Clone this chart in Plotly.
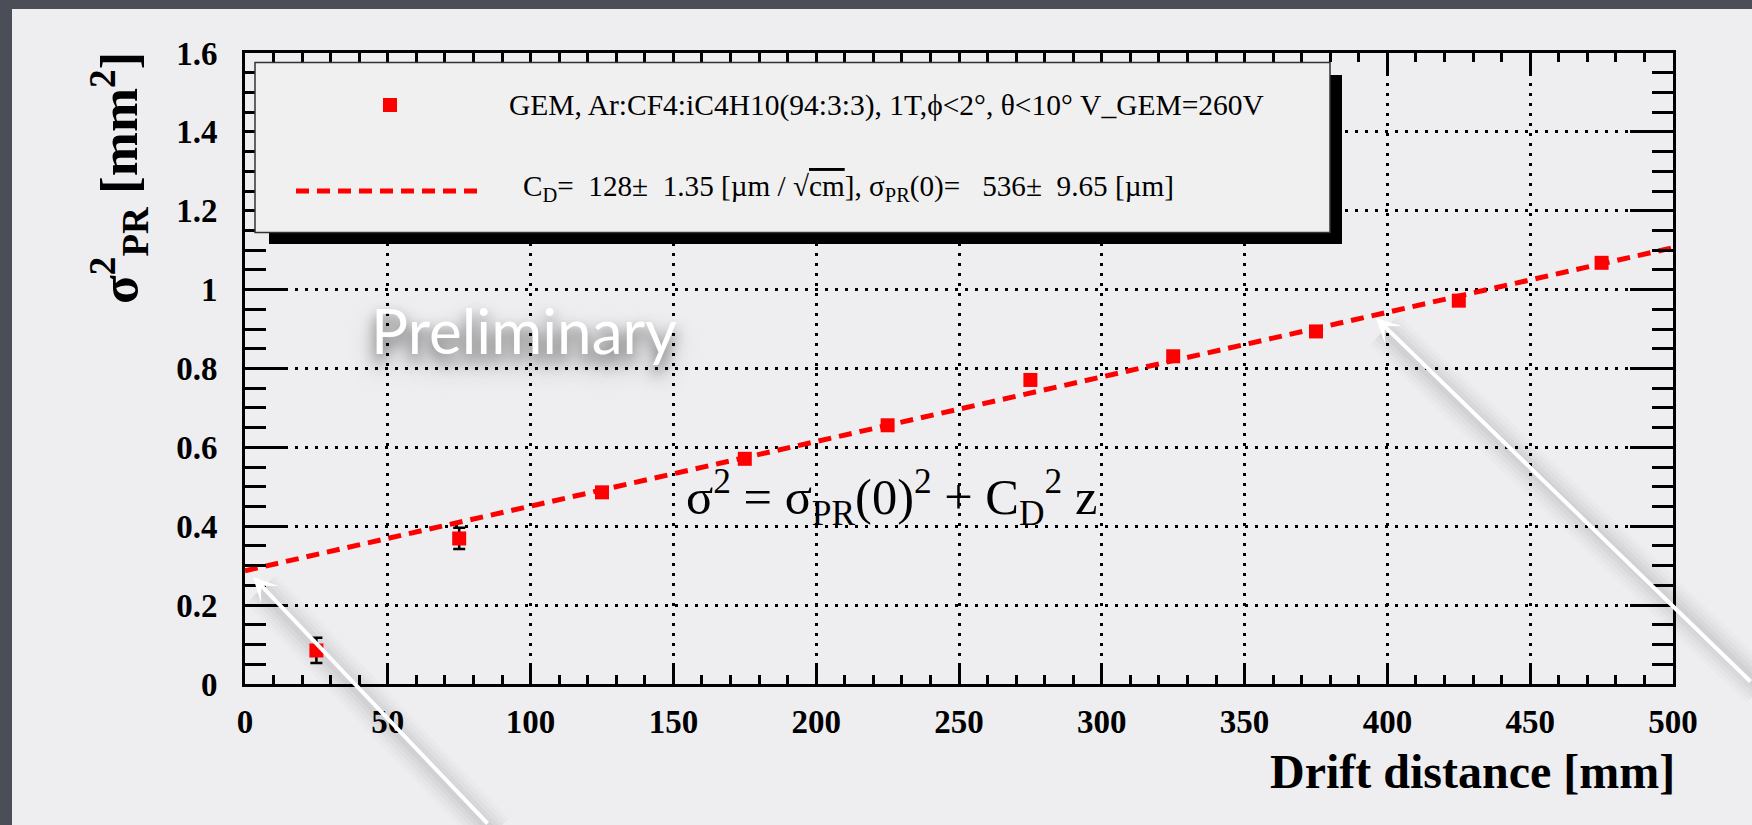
import numpy as np
import plotly.graph_objects as go

# Measured point resolution squared versus drift distance
drift_mm = [25, 75, 125, 175, 225, 275, 325, 375, 425, 475]
sigma2_mm2 = [0.085, 0.369, 0.486, 0.571, 0.656, 0.771, 0.831, 0.894, 0.972, 1.068]
sigma2_err = [0.032, 0.027, 0.011, 0.010, 0.010, 0.010, 0.010, 0.010, 0.010, 0.010]

# Fit result: sigma^2 = sigma_PR(0)^2 + C_D^2 z
cd_um_sqrtcm = 128.0
cd_err = 1.35
sigma0_um = 536.0
sigma0_err = 9.65

x_tick_vals = [0, 50, 100, 150, 200, 250, 300, 350, 400, 450, 500]
x_tick_text = ["0", "50", "100", "150", "200", "250", "300", "350", "400", "450", "500"]
y_tick_vals = [0, 0.2, 0.4, 0.6, 0.8, 1.0, 1.2, 1.4, 1.6]
y_tick_text = ["0", "0.2", "0.4", "0.6", "0.8", "1", "1.2", "1.4", "1.6"]

legend_label_data = "GEM, Ar:CF4:iC4H10(94:3:3), 1T,ϕ&lt;2°, θ&lt;10° V_GEM=260V"
legend_label_fit = (
    f"C<sub>D</sub>=  {cd_um_sqrtcm:.0f}±  {cd_err:.2f} [µm / √<span style='text-decoration:overline'>cm</span>], "
    f"σ<sub>PR</sub>(0)=   {sigma0_um:.0f}±  {sigma0_err:.2f} [µm]"
)

# Fit curve evaluated over the axis range (z in mm, sigma in mm)
z_fit = np.array([0.0, 500.0])
sigma2_fit = (sigma0_um / 1000.0) ** 2 + (cd_um_sqrtcm / 1000.0) ** 2 * z_fit / 10.0

# Frame geometry (pixels)
W_FIG, H_FIG = 1752, 825
L, R, T, B = 245, 1673, 53, 684


def px(X):
    return (X - L) / (R - L)


def py(Y):
    return (B - Y) / (B - T)


PANEL = "#eeeef0"
DARK = "#4b4e56"
SERIF = "Liberation Serif"

fig = go.Figure()

fig.add_trace(go.Scatter(
    x=drift_mm, y=sigma2_mm2, mode="markers",
    marker=dict(symbol="square", size=14, color="#ff0000", line=dict(width=0)),
    error_y=dict(type="data", array=sigma2_err, color="black", thickness=2.5, width=6),
    showlegend=False, hoverinfo="skip",
))

fig.add_trace(go.Scatter(
    x=z_fit, y=sigma2_fit, mode="lines",
    line=dict(color="#ff0000", width=5, dash="13px,8px"),
    showlegend=False, hoverinfo="skip",
))

axis_common = dict(
    showline=True, linewidth=3, linecolor="black", mirror="allticks",
    ticks="inside", tickcolor="black", tickwidth=3,
    showgrid=True, gridcolor="black", gridwidth=2.5, griddash="3px,7px",
    zeroline=False, tickmode="array",
    tickfont=dict(family=SERIF, size=33, color="black", weight="bold"),
)

fig.update_xaxes(
    **axis_common, range=[0, 500], tickvals=x_tick_vals, ticktext=x_tick_text,
    ticklen=20, ticklabelstandoff=6,
    minor=dict(tickmode="linear", tick0=0, dtick=10, ticks="inside", ticklen=9,
               tickwidth=2.5, tickcolor="black", showgrid=False),
)
fig.update_yaxes(
    **axis_common, range=[0, 1.6], tickvals=y_tick_vals, ticktext=y_tick_text,
    ticklen=43, ticklabelstandoff=18,
    minor=dict(tickmode="linear", tick0=0, dtick=0.05, ticks="inside", ticklen=21,
               tickwidth=2.5, tickcolor="black", showgrid=False),
)

shapes = []
# light slide panel
shapes.append(dict(type="rect", xref="paper", yref="paper", layer="below",
                   x0=px(12), x1=px(W_FIG + 10), y0=py(9), y1=py(H_FIG + 10),
                   fillcolor=PANEL, line=dict(width=0)))

# soft shadows under the pointer arrows
arrows = [((253, 577), (489, 828)), ((1376, 318), (1756, 683))]
for (tx, ty), (sx, sy) in arrows:
    for w, a in [(42, 0.014), (34, 0.018), (26, 0.022), (18, 0.026), (10, 0.03)]:
        shapes.append(dict(type="line", xref="paper", yref="paper", layer="below",
                           x0=px(tx + 8), y0=py(ty + 12), x1=px(sx + 5), y1=py(sy + 5),
                           line=dict(color=f"rgba(0,0,0,{a})", width=w)))

# legend box with drop shadow
shapes.append(dict(type="rect", xref="paper", yref="paper", layer="above",
                   x0=px(269), x1=px(1342), y0=py(244), y1=py(75),
                   fillcolor="black", line=dict(width=0)))
shapes.append(dict(type="rect", xref="paper", yref="paper", layer="above",
                   x0=px(255), x1=px(1330), y0=py(232.5), y1=py(62.5),
                   fillcolor="#f0f0f1", line=dict(color="#333333", width=1.5)))
shapes.append(dict(type="rect", xref="paper", yref="paper", layer="above",
                   x0=px(383), x1=px(397), y0=py(112), y1=py(98),
                   fillcolor="#ff0000", line=dict(width=0)))
shapes.append(dict(type="line", xref="paper", yref="paper", layer="above",
                   x0=px(296), x1=px(482), y0=py(191), y1=py(191),
                   line=dict(color="#ff0000", width=5, dash="13px,8px")))

annotations = [
    dict(text="σ<sup>2</sup><sub>PR</sub> [mm<sup>2</sup>]", xref="paper", yref="paper",
         x=px(119), y=py(178), xanchor="center", yanchor="middle", textangle=-90,
         showarrow=False, font=dict(family=SERIF, size=53, color="black", weight="bold")),
    dict(text="Drift distance [mm]", xref="paper", yref="paper",
         x=px(1677), y=py(771), xanchor="right", yanchor="middle",
         showarrow=False, font=dict(family=SERIF, size=48, color="black", weight="bold")),
    dict(text=legend_label_data, xref="paper", yref="paper",
         x=px(507), y=py(105), xanchor="left", yanchor="middle",
         showarrow=False, font=dict(family=SERIF, size=29.5, color="black")),
    dict(text=legend_label_fit, xref="paper", yref="paper",
         x=px(521), y=py(188), xanchor="left", yanchor="middle",
         showarrow=False, font=dict(family=SERIF, size=29.2, color="black")),
    dict(text="σ<sup>2</sup> = σ<sub>PR</sub>(0)<sup>2</sup> + C<sub>D</sub><sup>2</sup> z",
         xref="paper", yref="paper", x=px(684), y=py(497), xanchor="left", yanchor="middle",
         showarrow=False, font=dict(family=SERIF, size=50.5, color="black")),
    dict(text="Preliminary", xref="paper", yref="paper",
         x=px(524), y=py(330), xanchor="center", yanchor="middle", showarrow=False,
         font=dict(family="Lato", size=62, color="white",
                   shadow="0px 8px 14px rgba(0,0,0,0.5), 0px 14px 26px rgba(0,0,0,0.35)")),
]
for (tx, ty), (sx, sy) in arrows:
    annotations.append(dict(text="", xref="paper", yref="paper", x=px(tx), y=py(ty),
                            ax=sx - tx, ay=sy - ty, showarrow=True, arrowhead=3,
                            arrowsize=1.0, arrowwidth=4, arrowcolor="white", standoff=0))

fig.update_layout(
    width=W_FIG, height=H_FIG,
    margin=dict(l=L, r=W_FIG - R, t=T, b=H_FIG - B, pad=0),
    paper_bgcolor=DARK, plot_bgcolor=PANEL,
    shapes=shapes, annotations=annotations, showlegend=False,
)

fig.write_html("out.html")
